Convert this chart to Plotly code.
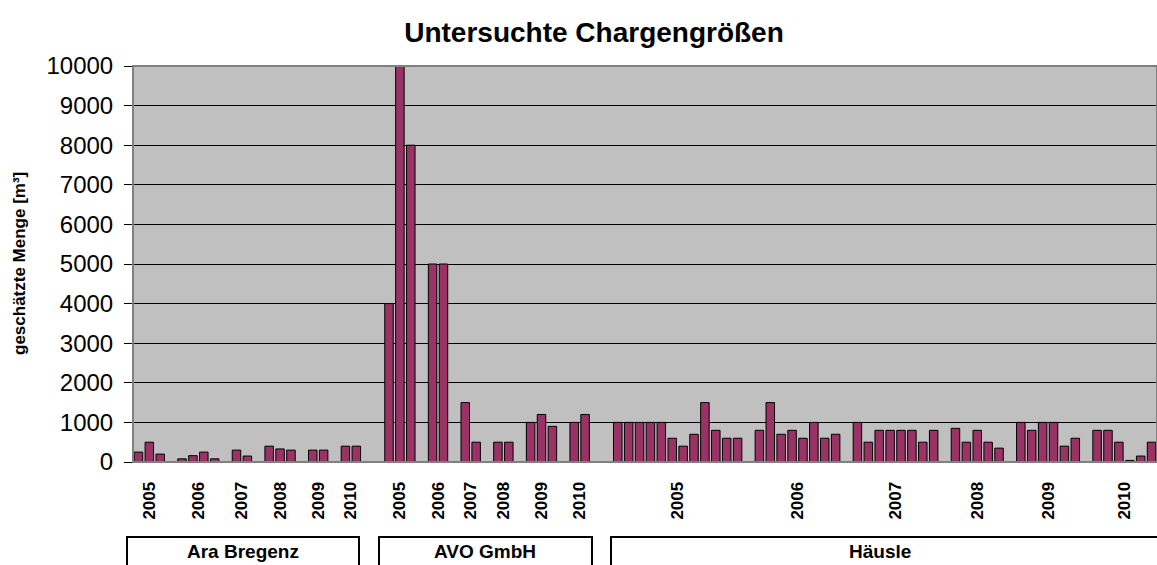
import plotly.graph_objects as go

# ---------------- data ----------------
years = ["2005", "2006", "2007", "2008", "2009", "2010"]
companies = ["Ara Bregenz", "AVO GmbH", "Häusle"]

ara_bregenz = [
    [250, 500, 200],
    [80, 160, 250, 80],
    [300, 150],
    [400, 330, 300],
    [300, 300],
    [400, 400],
]
avo_gmbh = [
    [4000, 10000, 8000],
    [5000, 5000],
    [1500, 500],
    [500, 500],
    [1000, 1200, 900],
    [1000, 1200],
]
haeusle = [
    [1000, 1000, 1000, 1000, 1000, 600, 400, 700, 1500, 800, 600, 600],
    [800, 1500, 700, 800, 600, 1000, 600, 700],
    [1000, 500, 800, 800, 800, 800, 500, 800],
    [850, 500, 800, 500, 350],
    [1000, 800, 1000, 1000, 400, 600],
    [800, 800, 500, 40, 150, 500],
]
company_data = [ara_bregenz, avo_gmbh, haeusle]

# ------------- build category slots (with empty separators) -------------
xs, ys = [], []
tickvals, ticktext = [], []
pos = 0
for ci, groups in enumerate(company_data):
    if ci > 0:
        pos += 2
    for gi, vals in enumerate(groups):
        if gi > 0:
            pos += 1
        start = pos
        for v in vals:
            xs.append(pos)
            ys.append(v)
            pos += 1
        tickvals.append((start + pos - 1) / 2)
        ticktext.append(years[gi])
n_slots = pos

FONT = "Liberation Sans, Arial, sans-serif"
W, H = 1157, 565
# plot area in page pixels: x 133..1157, y 66..462
L, R, T, B = 133, 0, 66, H - 462
PW, PH = W - L - R, H - T - B


def px_x(p):  # page pixel -> paper x
    return (p - L) / PW


def px_y(p):  # page pixel -> paper y
    return (H - B - p) / PH


fig = go.Figure()
fig.add_trace(go.Bar(
    x=xs, y=ys, width=0.78,
    marker=dict(color="#993366", line=dict(color="black", width=1)),
    hoverinfo="x+y",
))

shapes = [
    dict(type="rect", xref="paper", yref="paper", x0=0, x1=1, y0=0, y1=1,
         line=dict(color="#808080", width=2), layer="above"),
]
annotations = [
    dict(text="<b>geschätzte Menge [m³]</b>", textangle=-90,
         xref="paper", yref="paper", x=px_x(19), y=0.5,
         xanchor="center", yanchor="middle", showarrow=False,
         font=dict(family=FONT, size=17, color="black")),
]

boxes = [(127, 359, 243), (379, 592, 485), (611, 1175, 880)]
for (x0, x1, cx), name in zip(boxes, companies):
    shapes.append(dict(type="rect", xref="paper", yref="paper",
                       x0=px_x(x0), x1=px_x(x1), y0=px_y(537), y1=px_y(580),
                       line=dict(color="black", width=2)))
    annotations.append(dict(text=f"<b>{name}</b>", xref="paper", yref="paper",
                            x=px_x(cx), y=px_y(551), xanchor="center",
                            yanchor="middle", showarrow=False,
                            font=dict(family=FONT, size=19, color="black")))

fig.update_layout(
    width=W, height=H,
    margin=dict(l=L, r=R, t=T, b=B, pad=0),
    paper_bgcolor="white",
    plot_bgcolor="#C0C0C0",
    showlegend=False,
    title=dict(text="<b>Untersuchte Chargengrößen</b>",
               x=594 / W, xref="container", xanchor="center",
               y=1 - 32 / H, yref="container", yanchor="middle",
               font=dict(family=FONT, size=28, color="black")),
    xaxis=dict(range=[-0.5, n_slots - 0.5], tickmode="array",
               tickvals=tickvals, ticktext=ticktext, tickangle=-90,
               tickfont=dict(family=FONT, size=17, color="black", weight="bold"),
               ticks="", showgrid=False, zeroline=False,
               showline=True, linecolor="#404040", linewidth=1,
               ticklabelstandoff=12, fixedrange=True),
    yaxis=dict(range=[0, 10000], dtick=1000, tickformat="d",
               tickfont=dict(family=FONT, size=24, color="black"),
               ticks="outside", ticklen=8, tickcolor="black",
               showline=True, linecolor="black", linewidth=1,
               showgrid=True, gridcolor="black", gridwidth=1,
               zeroline=False, ticklabelstandoff=6, fixedrange=True),
    shapes=shapes,
    annotations=annotations,
)

fig.write_html(
    "out.html",
    config={"displayModeBar": False},
    post_script="document.body.style.margin='0';document.body.style.overflow='hidden';",
)
